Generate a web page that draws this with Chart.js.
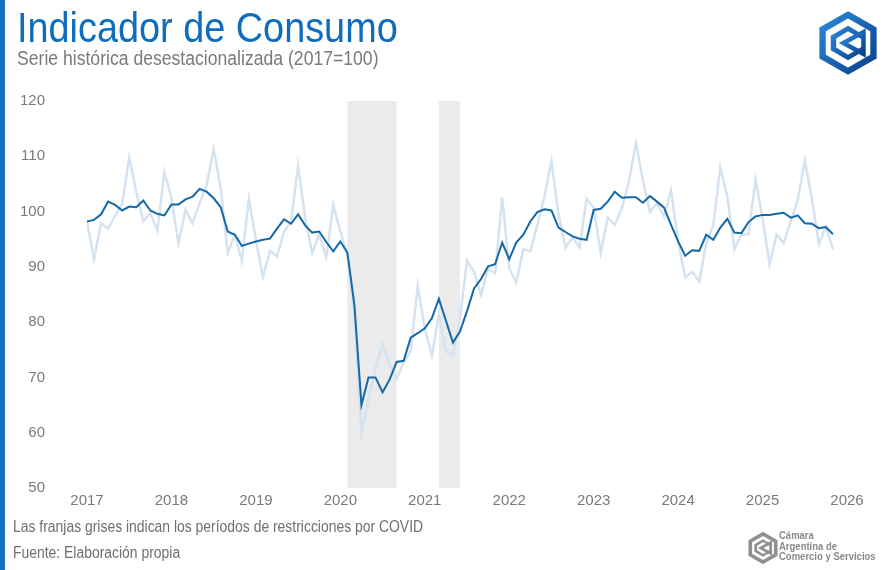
<!DOCTYPE html>
<html lang="es">
<head>
<meta charset="utf-8">
<title>Indicador de Consumo</title>
<script src="https://cdn.jsdelivr.net/npm/chart.js@4.4.1/dist/chart.umd.min.js"></script>
<style>
  html, body { margin: 0; padding: 0; background: #fff; }
  body { width: 886px; height: 570px; position: relative; overflow: hidden; font-family: "Liberation Sans", Arial, sans-serif; }
  .bar { position: absolute; left: 0; top: 0; width: 5px; height: 570px; background: #1570bd; }
  .txt { position: absolute; white-space: nowrap; transform-origin: left top; transform: scaleX(0.87); }
  #title { left: 17px; top: 3px; font-size: 43px; color: #106dbb; transform: scaleX(0.88); }
  #subtitle { left: 17px; top: 47px; font-size: 20px; color: #7a7a7a; transform: scaleX(0.88); }
  #note1 { left: 13px; top: 518px; font-size: 16px; color: #6f6f6f; }
  #note2 { left: 13px; top: 544px; font-size: 16px; color: #6f6f6f; }
  #wrap { position: absolute; left: 0; top: 0; width: 886px; height: 570px; }
  #logo { position: absolute; left: 818px; top: 11px; }
  #cac { position: absolute; left: 748px; top: 532px; }
  #cacText { position: absolute; left: 779px; top: 531px; font-size: 10px; line-height: 10.5px; font-weight: bold; color: #8a8a8a; transform: scaleX(0.95); }
</style>
</head>
<body>
<div class="bar"></div>
<div id="wrap"><canvas id="chart"></canvas></div>
<div class="txt" id="title">Indicador de Consumo</div>
<div class="txt" id="subtitle">Serie histórica desestacionalizada (2017=100)</div>
<div class="txt" id="note1">Las franjas grises indican los períodos de restricciones por COVID</div>
<div class="txt" id="note2">Fuente: Elaboración propia</div>

<svg id="logo" width="60" height="64" viewBox="0 0 66 68">
  <defs>
    <linearGradient id="g" x1="0" y1="0" x2="1" y2="1">
      <stop offset="0" stop-color="#2a8ad8"/>
      <stop offset="1" stop-color="#0b3f8f"/>
    </linearGradient>
  </defs>
  <polygon points="33,3 61,19 61,49 33,65 5,49 5,19" fill="none" stroke="url(#g)" stroke-width="7"/>
  <polygon points="33,15 50,25 50,31 33,21 20,29 20,39 33,47 50,37 50,43 33,53 14,42 14,26" fill="url(#g)"/>
  <polygon points="28,34 50,22 50,46" fill="none" stroke="url(#g)" stroke-width="5"/>
</svg>

<svg id="cac" width="30" height="32" viewBox="0 0 66 68">
  <polygon points="33,3 61,19 61,49 33,65 5,49 5,19" fill="none" stroke="#8f8f8f" stroke-width="8"/>
  <polygon points="33,15 50,25 50,31 33,21 20,29 20,39 33,47 50,37 50,43 33,53 14,42 14,26" fill="#8f8f8f"/>
  <polygon points="28,34 50,22 50,46" fill="none" stroke="#8f8f8f" stroke-width="6"/>
</svg>
<div class="txt" id="cacText">Cámara<br>Argentina de<br>Comercio y Servicios</div>

<script>
// tick labels (one per January, Jan 2017 = month 0)
const years = ["2017", "2018", "2019", "2020", "2021", "2022", "2023", "2024", "2025", "2026"];

// desestacionalizada, Jan 2017 .. Nov 2025
const desest = [
  98.2, 98.5, 99.5, 101.8, 101.2, 100.2, 100.9, 100.8, 102.0, 100.2, 99.6, 99.3,
  101.3, 101.3, 102.2, 102.7, 104.1, 103.6, 102.4, 100.8, 96.4, 95.8, 93.8, 94.2,
  94.6, 94.9, 95.1, 96.9, 98.6, 97.8, 99.5, 97.5, 96.2, 96.4, 94.5, 92.8,
  94.6, 92.6, 83.1, 65.0, 70.0, 70.0, 67.3, 69.6, 72.8, 73.0, 77.2, 78.0,
  78.9, 80.7, 84.2, 80.3, 76.3, 78.3, 82.0, 86.1, 87.8, 90.1, 90.5, 94.4,
  91.4, 94.4, 95.8, 98.2, 99.9, 100.4, 100.2, 97.1, 96.3, 95.5, 95.1, 94.9,
  100.3, 100.5, 101.8, 103.6, 102.5, 102.6, 102.6, 101.6, 102.8, 101.8, 100.7, 97.6,
  94.6, 92.0, 93.0, 92.9, 95.8, 94.9, 97.1, 98.7, 96.2, 96.1, 98.1, 99.1,
  99.4, 99.4, 99.6, 99.8, 98.9, 99.3, 97.9, 97.8, 97.0, 97.2, 95.9
];

// serie original, Jan 2017 .. Nov 2025
const original = [
  98.2, 91.4, 97.9, 96.9, 99.2, 101.5, 109.8, 103.6, 98.2, 99.7, 96.6, 107.2,
  102.4, 94.3, 100.3, 97.9, 101.5, 104.8, 111.3, 104.2, 92.5, 95.8, 91.1, 102.3,
  94.9, 88.2, 92.9, 91.9, 96.4, 98.2, 108.3, 98.8, 92.5, 95.9, 91.7, 101.2,
  96.4, 92.1, 81.5, 59.9, 66.2, 71.6, 76.0, 72.2, 69.8, 72.8, 74.7, 86.6,
  78.9, 74.0, 81.3, 74.7, 74.0, 80.7, 91.1, 89.1, 84.9, 89.7, 88.8, 102.6,
  89.7, 87.2, 93.2, 92.8, 97.6, 102.7, 109.2, 99.5, 93.5, 95.3, 93.5, 102.3,
  100.7, 92.5, 98.9, 97.6, 100.6, 105.4, 112.4, 105.7, 99.9, 101.5, 99.1, 103.9,
  94.6, 88.1, 89.1, 87.3, 94.3, 97.6, 108.0, 102.7, 93.2, 95.8, 95.9, 105.8,
  98.8, 90.5, 95.8, 94.3, 98.2, 102.1, 109.2, 102.4, 94.1, 97.3, 93.1
];

// COVID restriction periods, in months since Jan 2017
const covidStart = [37, 50];
const covidEnd = [44, 53];

const toPoints = arr => arr.map((v, i) => ({ x: i, y: v }));

const covidBands = {
  id: "covidBands",
  beforeDatasetsDraw(chart) {
    const { ctx, chartArea, scales } = chart;
    ctx.save();
    ctx.fillStyle = "#ebebeb";
    covidStart.forEach((s, i) => {
      const x0 = scales.x.getPixelForValue(s);
      const x1 = scales.x.getPixelForValue(covidEnd[i]);
      ctx.fillRect(x0, chartArea.top, x1 - x0, chartArea.bottom - chartArea.top);
    });
    ctx.restore();
  },
};

new Chart(document.getElementById("chart"), {
  type: "line",
  data: {
    datasets: [
      {
        label: "Desestacionalizada",
        data: toPoints(desest),
        borderColor: "#1368a8",
        borderWidth: 2,
        pointRadius: 0,
        tension: 0,
      },
      {
        label: "Original",
        data: toPoints(original),
        borderColor: "#d5e3f1",
        borderWidth: 2.5,
        pointRadius: 0,
        tension: 0,
      },
    ],
  },
  options: {
    responsive: true,
    maintainAspectRatio: false,
    animation: false,
    layout: { padding: { top: 101, right: 39, bottom: 52, left: 0 } },
    plugins: { legend: { display: false }, tooltip: { enabled: false } },
    scales: {
      x: {
        type: "linear",
        min: 0,
        max: 108,
        grid: { display: false, drawTicks: false },
        border: { display: false },
        afterFit: s => { s.height = 30; },
        ticks: {
          stepSize: 12,
          padding: 4,
          color: "#7a7a7a",
          font: { family: "'Liberation Sans', Arial, sans-serif", size: 15 },
          callback: v => years[v / 12],
          maxRotation: 0,
          autoSkip: false,
        },
      },
      y: {
        min: 50,
        max: 120,
        grid: { display: false, drawTicks: false },
        border: { display: false },
        afterFit: s => { s.width = 87; },
        ticks: {
          stepSize: 10,
          padding: 42,
          color: "#7a7a7a",
          font: { family: "'Liberation Sans', Arial, sans-serif", size: 15 },
        },
      },
    },
  },
  plugins: [covidBands],
});
</script>
</body>
</html>
